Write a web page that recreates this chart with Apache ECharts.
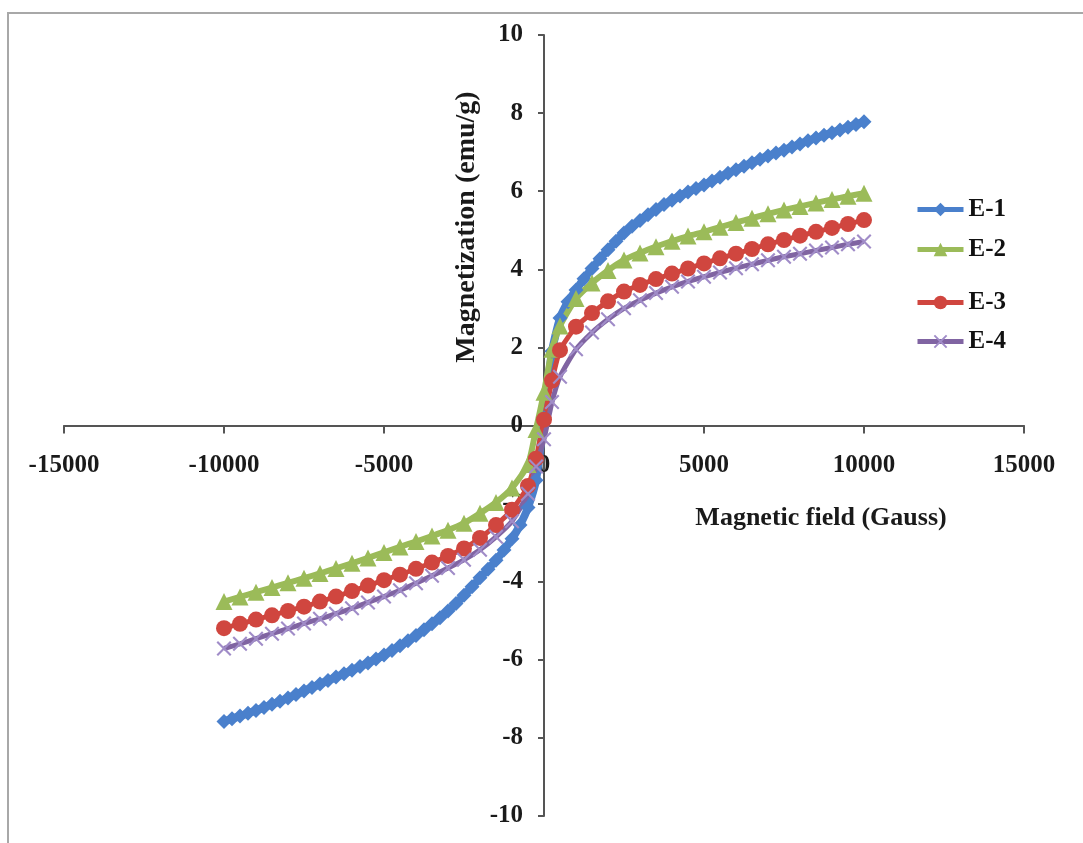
<!DOCTYPE html>
<html>
<head>
<meta charset="utf-8">
<script src="https://cdn.jsdelivr.net/npm/echarts@6/dist/echarts.min.js"></script>
<style>
html,body{margin:0;padding:0;background:#fff;}
#chart{width:1083px;height:843px;}
</style>
</head>
<body>
<div id="chart"></div>
<script>
// Field values (Gauss) for E-1 (dense sampling)
const fieldFine = [-10000,-9750,-9500,-9250,-9000,-8750,-8500,-8250,-8000,-7750,-7500,-7250,-7000,-6750,-6500,-6250,-6000,-5750,-5500,-5250,-5000,-4750,-4500,-4250,-4000,-3750,-3500,-3250,-3000,-2750,-2500,-2250,-2000,-1750,-1500,-1250,-1000,-750,-500,-250,0,250,500,750,1000,1250,1500,1750,2000,2250,2500,2750,3000,3250,3500,3750,4000,4250,4500,4750,5000,5250,5500,5750,6000,6250,6500,6750,7000,7250,7500,7750,8000,8250,8500,8750,9000,9250,9500,9750,10000];
// Field values (Gauss) for E-2, E-3, E-4
const fieldCoarse = [-10000,-9500,-9000,-8500,-8000,-7500,-7000,-6500,-6000,-5500,-5000,-4500,-4000,-3500,-3000,-2500,-2000,-1500,-1000,-500,-250,0,250,500,1000,1500,2000,2500,3000,3500,4000,4500,5000,5500,6000,6500,7000,7500,8000,8500,9000,9500,10000];

const seriesNames = ['E-1','E-2','E-3','E-4'];

const e1 = [-7.58,-7.51,-7.44,-7.37,-7.30,-7.22,-7.14,-7.06,-6.98,-6.89,-6.80,-6.71,-6.62,-6.53,-6.44,-6.36,-6.27,-6.17,-6.08,-5.98,-5.88,-5.76,-5.64,-5.51,-5.38,-5.23,-5.08,-4.92,-4.75,-4.56,-4.35,-4.13,-3.90,-3.68,-3.45,-3.19,-2.90,-2.55,-2.10,-1.40,
  0.20,
  1.90,2.75,3.17,3.47,3.76,4.02,4.27,4.50,4.72,4.93,5.10,5.25,5.40,5.53,5.66,5.77,5.88,5.98,6.07,6.16,6.26,6.36,6.46,6.55,6.64,6.73,6.82,6.90,6.98,7.05,7.13,7.21,7.29,7.36,7.43,7.50,7.57,7.64,7.71,7.78];

const e2 = [-4.51,-4.39,-4.27,-4.15,-4.03,-3.91,-3.79,-3.66,-3.53,-3.39,-3.25,-3.11,-2.97,-2.83,-2.68,-2.50,-2.25,-1.97,-1.60,-1.00,
  -0.10,0.85,1.95,
  2.55,3.25,3.65,3.97,4.24,4.42,4.58,4.72,4.85,4.96,5.08,5.20,5.31,5.42,5.52,5.61,5.70,5.79,5.87,5.95];

const e3 = [-5.19,-5.08,-4.97,-4.86,-4.75,-4.64,-4.51,-4.38,-4.24,-4.10,-3.96,-3.82,-3.67,-3.51,-3.34,-3.15,-2.88,-2.55,-2.16,-1.55,
  -0.85,0.15,1.15,
  1.93,2.53,2.88,3.18,3.43,3.60,3.75,3.89,4.02,4.15,4.28,4.40,4.52,4.64,4.75,4.86,4.96,5.06,5.16,5.26];

const e4 = [-5.71,-5.59,-5.46,-5.33,-5.20,-5.07,-4.95,-4.82,-4.68,-4.53,-4.38,-4.22,-4.04,-3.85,-3.65,-3.44,-3.18,-2.85,-2.45,-1.75,
  -1.05,-0.35,0.60,
  1.25,1.95,2.38,2.72,3.00,3.21,3.39,3.55,3.69,3.81,3.92,4.03,4.13,4.23,4.32,4.40,4.48,4.56,4.64,4.71];

const xTickValues = [-15000,-10000,-5000,0,5000,10000,15000];
const yTickValues = [-10,-8,-6,-4,-2,0,2,4,6,8,10];

const xTitle = 'Magnetic field (Gauss)';
const yTitle = 'Magnetization (emu/g)';

function zip(xs, ys){ return xs.map((x,i)=>[x, ys[i]]); }

const FONT = '"Liberation Serif", "DejaVu Serif", serif';
const colors = ['#4A80CC','#9BBB59','#D0463F','#8064A2'];
const xPath = 'path://M0,1 L1,0 L5,4 L9,0 L10,1 L6,5 L10,9 L9,10 L5,6 L1,10 L0,9 L4,5 Z';

const W = 1083, H = 843;
const G = {left: 64, right: 59, top: 35, bottom: 27};
const gridW = W - G.left - G.right;
const gridH = H - G.top - G.bottom;

const chart = echarts.init(document.getElementById('chart'), null, {renderer:'canvas', width: W, height: H});

const legendTops = [192, 232, 285, 324];

chart.setOption({
  animation: false,
  backgroundColor: '#ffffff',
  grid: {left: G.left, right: G.right, top: G.top, bottom: G.bottom, containLabel: false, outerBoundsMode: 'none'},
  xAxis: {
    type: 'value', min: xTickValues[0], max: xTickValues[xTickValues.length-1], interval: 5000,
    position: 'bottom', offset: -gridH / 2,
    axisLine: {onZero: false, lineStyle: {color: '#555', width: 2}},
    axisTick: {show: true, length: 8, lineStyle: {color: '#555', width: 2}},
    axisLabel: {margin: 28, color: '#1a1a1a', fontFamily: FONT, fontWeight: 'bold', fontSize: 25,
      showMinLabel: true, showMaxLabel: true, formatter: v => String(v)},
    splitLine: {show: false}
  },
  yAxis: {
    type: 'value', min: yTickValues[0], max: yTickValues[yTickValues.length-1], interval: 2,
    position: 'left', offset: -gridW / 2,
    axisLine: {onZero: false, lineStyle: {color: '#555', width: 2}},
    axisTick: {show: true, length: 6, lineStyle: {color: '#555', width: 2}},
    axisLabel: {margin: 21, color: '#1a1a1a', fontFamily: FONT, fontWeight: 'bold', fontSize: 25,
      showMinLabel: true, showMaxLabel: true, formatter: v => String(v)},
    splitLine: {show: false}
  },
  legend: seriesNames.map((n,i)=>({
    data: [n], orient: 'vertical', left: 910, top: legendTops[i],
    itemWidth: 46, itemHeight: 17, itemGap: 0,
    lineStyle: {width: 5},
    textStyle: {fontFamily: FONT, fontWeight: 'bold', fontSize: 25, color: '#111'}
  })),
  graphic: [
    {type: 'rect', shape: {x: 8, y: 13, width: 1200, height: 1000}, style: {fill: 'none', stroke: '#a8a8a8', lineWidth: 2}, silent: true, z: 100},
    {type: 'text', x: 821, y: 518, style: {text: xTitle, font: 'bold 26px ' + FONT, fill: '#1a1a1a', textAlign: 'center', textVerticalAlign: 'middle'}},
    {type: 'text', x: 467, y: 227, rotation: Math.PI/2, style: {text: yTitle, font: 'bold 28px ' + FONT, fill: '#1a1a1a', textAlign: 'center', textVerticalAlign: 'middle'}}
  ],
  series: [
    {name: 'E-1', type: 'line', data: zip(fieldFine, e1), smooth: 0.2, symbol: 'diamond', symbolSize: 15,
      lineStyle: {color: colors[0], width: 8}, itemStyle: {color: colors[0]}, clip: false},
    {name: 'E-2', type: 'line', data: zip(fieldCoarse, e2), smooth: 0.2, symbol: 'triangle', symbolSize: 17,
      lineStyle: {color: colors[1], width: 6}, itemStyle: {color: colors[1]}, clip: false},
    {name: 'E-3', type: 'line', data: zip(fieldCoarse, e3), smooth: 0.2, symbol: 'circle', symbolSize: 16,
      lineStyle: {color: colors[2], width: 5}, itemStyle: {color: colors[2]}, clip: false},
    {name: 'E-4', type: 'line', data: zip(fieldCoarse, e4), smooth: 0.2, symbol: xPath, symbolSize: 15,
      lineStyle: {color: colors[3], width: 5}, itemStyle: {color: '#a08cc8'}, clip: false}
  ]
});
</script>
</body>
</html>
